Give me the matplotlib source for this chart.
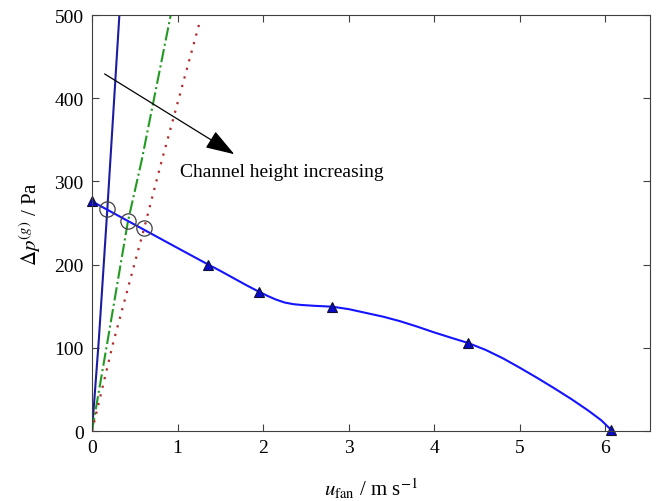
import matplotlib
matplotlib.use("Agg")
import matplotlib.pyplot as plt

fan_u = [0.0, 0.5, 1.0, 1.36, 1.5, 1.65, 1.8, 1.95, 2.05, 2.15, 2.25, 2.35, 2.45, 2.6, 2.7,
         2.81, 3.0, 3.2, 3.4, 3.6, 3.8, 4.0, 4.2, 4.39, 4.6, 4.8, 5.0, 5.2, 5.4, 5.6, 5.8, 5.95, 6.07]
fan_dp = [276, 248, 220, 200, 192.5, 184, 175.5, 167.5, 162.5, 158, 154.5, 152.5, 151.5, 150.5, 150,
          149.4, 146.5, 142, 137.5, 132, 125.5, 118.5, 112, 106, 97.5, 87.5, 76, 64, 51.5, 38.5, 24.5, 13, 1]
meas_u = [0.0, 1.36, 1.95, 2.81, 4.39, 6.07]
meas_dp = [276, 200, 167.5, 149.4, 106, 1]

# system curves for three channel heights
sys1_u = [0.0, 0.08, 0.18, 0.32]
sys1_dp = [0, 110, 268, 500]
sys2_u = [0.0, 0.18, 0.42, 0.58, 0.92]
sys2_dp = [0, 107, 252, 325, 500]
sys3_u = [0.0, 0.25, 0.61, 0.81, 1.26]
sys3_dp = [0, 107, 244, 323, 492]

# operating points
op_u = [0.18, 0.42, 0.61]
op_dp = [267, 252, 244]

plt.rcParams["font.family"] = ["Liberation Serif", "DejaVu Serif"]
plt.rcParams["mathtext.fontset"] = "stix"

fig = plt.figure(figsize=(6.59, 5.02), dpi=100)
ax = fig.add_axes([0.1396, 0.1394, 0.8467, 0.8286])

ax.plot(sys1_u, sys1_dp, color="#1c1ca0", lw=1.5)
ax.plot(sys2_u, sys2_dp, color="#229a22", lw=1.5, ls="-.")
ax.plot(sys3_u, sys3_dp, color="#b22a2a", lw=1.6, ls=(0, (1, 3)))
ax.plot(fan_u, fan_dp, color="#1414ff", lw=1.5)
ax.plot(meas_u, meas_dp, ls="none", marker="^", ms=7, mfc="#0a0acc", mec="#101030", mew=0.8, clip_on=False)
ax.plot(op_u, op_dp, ls="none", marker="o", ms=11, mfc="none", mec="#404040", mew=0.9)

ax.annotate("", xy=(1.69, 331), xytext=(0.12, 431),
            arrowprops=dict(arrowstyle="-|>,head_length=0.9,head_width=0.3",
                            color="black", lw=0.9, mutation_scale=20))
ax.text(1.03, 312, "Channel height increasing", fontsize=14, va="center", ha="left")

ax.set_xlim(0, 6.52)
ax.set_ylim(0, 500)
ax.set_xticks(range(0, 7))
ax.set_yticks(range(0, 501, 100))
ax.tick_params(direction="in", top=True, right=True, length=5, width=0.8,
               colors="#404040", labelcolor="black", labelsize=14, pad=6)
for s in ax.spines.values():
    s.set_color("#404040")
    s.set_linewidth(0.8)

ax.set_xlabel(r"$u_{\mathrm{fan}}$ / m s$^{-1}$", fontsize=15, labelpad=14)
ax.set_ylabel(r"$\Delta p^{(g)}$ / Pa", fontsize=15, labelpad=8)

fig.savefig("out.png", dpi=100)
